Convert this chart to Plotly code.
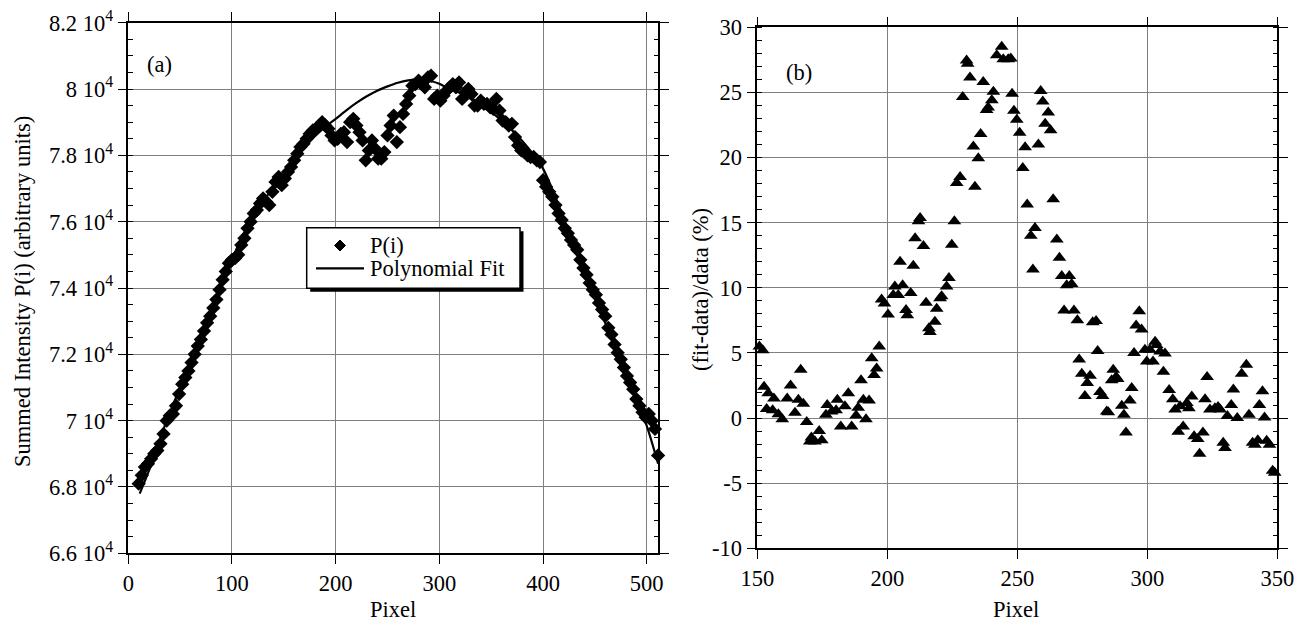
import plotly.graph_objects as go

W, H = 1310, 627

# ---------------- data: panel (a) ----------------
pixel_start, pixel_step = 10, 3
p_values = [
    68100, 68350, 68600, 68700, 68850, 69000, 69100, 69300, 69600, 70000,
    70150, 70200, 70450, 70800, 71100, 71300, 71500, 71750, 72000, 72250,
    72450, 72700, 72950, 73150, 73400, 73650, 73950, 74250, 74500, 74750,
    74850, 74900, 75000, 75300, 75500, 75800, 76000, 76250, 76350, 76550,
    76700, 76600, 76500, 76900, 77200, 77350, 77100, 77300, 77500, 77650,
    77850, 78050, 78250, 78350, 78500, 78650, 78750, 78800, 78900, 79000,
    78900, 78800, 78600, 78450, 78500, 78650, 78700, 78400, 79000, 79100,
    78900, 78700, 78450, 77850, 78150, 78450, 78200, 77900, 77900, 78100,
    78600, 78900, 79200, 78400, 78850, 79250, 79550, 79800, 80100, 80150,
    80250, 80150, 80050, 80350, 80400, 79700, 79800, 79650, 79800, 79950,
    80050, 80150, 80050, 80200, 79700, 79900, 80000, 79850, 79500, 79500,
    79650, 79550, 79550, 79450, 79400, 79700, 79350, 79050, 79000, 78900,
    78950, 78550, 78300, 78150, 78100, 78000, 77950, 77950, 77850, 77800,
    77250, 77050, 76900, 76750, 76500, 76250, 76050, 75800, 75650, 75450,
    75300, 75150, 74850, 74600, 74400, 74150, 73950, 73800, 73550, 73350,
    73150, 72800, 72600, 72300, 72050, 71850, 71600, 71350, 71150, 70950,
    70650, 70450, 70250, 70100, 70200, 70000, 69750, 68950,
]
p_pixel = [pixel_start + pixel_step * i for i in range(len(p_values))]

fit_pixel = [11, 20, 30, 40, 50, 60, 70, 80, 90, 100, 110, 120, 130, 140, 150,
             160, 170, 180, 190, 200, 210, 220, 230, 240, 250, 260, 270, 280,
             290, 300, 310, 320, 330, 340, 350, 360, 370, 380, 390, 400, 410,
             420, 430, 440, 450, 460, 470, 480, 490, 500, 511]
fit_values = [67800, 68500, 69400, 70240, 71000, 71770, 72560, 73360, 74140,
              74860, 75560, 76100, 76600, 77050, 77480, 77880, 78250, 78580,
              78860, 79100, 79350, 79580, 79780, 79950, 80080, 80190, 80260,
              80290, 80250, 80160, 79990, 79880, 79720, 79520, 79300, 79050,
              78760, 78430, 78050, 77600, 76900, 76100, 75250, 74450, 73700,
              72950, 72200, 71450, 70650, 69850, 68700]

# ---------------- data: panel (b) ----------------
res_pixel = [
    149.8, 150.8, 152.1, 152.6, 153.6, 154.2, 155.9, 156.4, 158.1, 159.6,
    161.5, 162.8, 164.5, 165.8, 166.7, 167.7, 169.0, 170.2, 170.8, 172.2,
    173.8, 174.8, 176.4, 176.9, 178.6, 180.3, 180.8, 182.1, 183.7, 185.0,
    186.3, 188.0, 188.8, 189.9, 190.8, 191.8, 193.0, 194.0, 194.9, 195.9,
    196.9, 197.8, 198.9, 200.3, 202.3, 202.9, 204.2, 204.9, 205.9, 207.2,
    207.7, 209.0, 210.0, 210.7, 212.0, 212.6, 213.9, 214.9, 216.0, 216.4,
    218.3, 219.0, 220.3, 220.9, 222.8, 223.7, 224.8, 225.8, 226.7, 228.0,
    229.0, 230.5, 230.9, 231.8, 233.1, 233.7, 235.0, 235.9, 236.9, 238.2,
    238.8, 240.2, 240.8, 242.1, 244.0, 244.6, 246.5, 247.5, 248.0, 248.7,
    249.8, 250.9, 252.1, 253.0, 253.8, 255.2, 256.0, 256.8, 258.1, 259.0,
    259.8, 260.7, 261.9, 262.8, 263.8, 265.2, 266.2, 267.1, 268.0, 269.0,
    270.0, 270.9, 271.8, 273.1, 273.8, 274.8, 276.0, 276.9, 278.0, 279.0,
    280.3, 280.9, 281.8, 282.8, 284.4, 285.0, 286.3, 286.9, 288.0, 288.6,
    290.2, 291.0, 291.8, 293.3, 294.0, 294.9, 295.7, 296.9, 297.8, 299.1,
    299.8, 301.0, 302.2, 303.0, 303.6, 304.9, 306.2, 306.8, 308.4, 309.8,
    310.7, 311.9, 312.6, 313.8, 315.2, 316.0, 317.1, 318.0, 319.4, 320.1,
    321.4, 322.2, 323.0, 324.1, 326.0, 327.2, 328.0, 329.2, 329.9, 330.8,
    332.3, 333.1, 334.6, 336.3, 338.1, 339.1, 340.5, 341.4, 342.5, 343.1,
    344.3, 345.1, 345.9, 347.0, 348.2, 349.0, 350.1,
]
res_values = [
    0.9, 5.5, 5.2, 2.4, 0.7, 1.9, 0.6, 1.5, 0.3, -0.1,
    1.5, 2.5, 0.4, 1.4, 3.7, 1.1, -0.3, -1.8, -1.5, -1.8,
    -1.0, -1.7, 0.25, 1.0, 0.5, 0.6, 1.4, -0.65, 0.9, 1.9,
    -0.65, 0.2, 0.8, 2.9, 1.4, -0.1, 1.35, 4.6, 3.3, 3.8,
    5.5, 9.1, 8.8, 7.95, 9.45, 10.1, 9.45, 12.0, 10.2, 8.3,
    7.9, 9.6, 11.7, 13.8, 15.1, 15.35, 13.2, 8.85, 6.9, 6.6,
    7.4, 8.4, 9.2, 9.35, 10.1, 10.75, 13.3, 15.1, 18.05, 18.5,
    24.65, 27.45, 27.2, 26.15, 20.85, 17.75, 19.95, 21.8, 25.8, 23.65,
    23.85, 24.4, 25.05, 27.85, 28.5, 27.55, 27.55, 27.6, 24.9, 23.6,
    22.9, 21.9, 19.2, 20.8, 16.4, 14.0, 11.4, 14.6, 21.0, 25.1,
    24.3, 22.6, 23.45, 22.1, 16.8, 13.7, 12.3, 10.9, 8.25, 10.2,
    10.9, 10.3, 8.25, 7.5, 4.5, 3.4, 1.7, 2.7, 3.25, 7.35,
    7.45, 5.15, 2.0, 1.7, 0.5, 0.45, 2.9, 3.7, 3.15, 3.0,
    0.95, 0.25, -1.1, 1.35, 2.3, 5.0, 7.1, 8.2, 6.8, 5.25,
    4.35, 5.25, 4.35, 5.85, 5.6, 5.1, 3.55, 4.95, 2.15, 1.45,
    0.65, -1.05, 0.9, -0.65, 1.15, 0.75, 1.65, -1.4, -1.6, -2.75,
    -1.1, 1.45, 3.15, 0.65, 0.75, 0.85, 0.65, -1.9, -2.3, 0.15,
    1.0, 2.2, 0.0, 3.4, 4.1, 0.25, -1.9, -2.05, -1.7, 1.0,
    2.05, 0.05, -1.75, -2.05, -4.05, -4.2, -1.75,
]

# ---------------- tick labels ----------------
ya_ticks = [66000, 68000, 70000, 72000, 74000, 76000, 78000, 80000, 82000]
ya_labels = ["6.6 10<sup>4</sup>", "6.8 10<sup>4</sup>", "7 10<sup>4</sup>",
             "7.2 10<sup>4</sup>", "7.4 10<sup>4</sup>", "7.6 10<sup>4</sup>",
             "7.8 10<sup>4</sup>", "8 10<sup>4</sup>", "8.2 10<sup>4</sup>"]
xa_ticks = [0, 100, 200, 300, 400, 500]
yb_ticks = [-10, -5, 0, 5, 10, 15, 20, 25, 30]
yb_labels = ["-10", "-5", "0", "5", "10", "15", "20", "25", "30"]
xb_ticks = [150, 200, 250, 300, 350]

FONT = "'Liberation Serif', 'Times New Roman', Times, 'DejaVu Serif', serif"
FS = 22.5


def px_x(p):
    return p / W


def px_y(p):
    return 1 - p / H


fig = go.Figure()
fig.add_trace(go.Scatter(
    x=p_pixel, y=p_values, mode="markers", name="P(i)", showlegend=False,
    marker=dict(symbol="diamond", size=11, color="black"),
    xaxis="x", yaxis="y", cliponaxis=False))
fig.add_trace(go.Scatter(
    x=fit_pixel, y=fit_values, mode="lines", name="Polynomial Fit",
    showlegend=False,
    line=dict(color="black", width=2.2, shape="spline", smoothing=0.8),
    xaxis="x", yaxis="y", cliponaxis=False))
fig.add_trace(go.Scatter(
    x=res_pixel, y=res_values, mode="markers", showlegend=False,
    marker=dict(symbol="triangle-up", size=12, color="black"),
    xaxis="x2", yaxis="y2", cliponaxis=False))

axis_common = dict(
    showline=True, linecolor="black", linewidth=1.5, mirror="allticks",
    showgrid=True, gridcolor="#7f7f7f", gridwidth=1, zeroline=False,
    ticks="outside", ticklen=9, tickwidth=1.3, tickcolor="black",
    tickfont=dict(family=FONT, size=FS, color="black"), automargin=False,
)

# ---- hand-drawn legend box (panel a) ----
lx0, lx1, ly0, ly1 = 306.7, 520.0, 227.7, 288.3
sh = 3.5
dcx, dcy, dr = 340.0, 245.5, 5.5
diamond_path = "M {},{} L {},{} L {},{} L {},{} Z".format(
    px_x(dcx), px_y(dcy - dr), px_x(dcx + dr), px_y(dcy),
    px_x(dcx), px_y(dcy + dr), px_x(dcx - dr), px_y(dcy))

shapes = [
    dict(type="rect", xref="paper", yref="paper",
         x0=px_x(lx0 + sh), x1=px_x(lx1 + sh), y0=px_y(ly1 + sh), y1=px_y(ly0 + sh),
         fillcolor="black", line=dict(width=0), layer="above"),
    dict(type="rect", xref="paper", yref="paper",
         x0=px_x(lx0), x1=px_x(lx1), y0=px_y(ly1), y1=px_y(ly0),
         fillcolor="white", line=dict(color="black", width=1.5), layer="above"),
    dict(type="path", xref="paper", yref="paper", path=diamond_path,
         fillcolor="black", line=dict(color="black", width=1), layer="above"),
    dict(type="line", xref="paper", yref="paper",
         x0=px_x(316), x1=px_x(364), y0=px_y(268.3), y1=px_y(268.3),
         line=dict(color="black", width=2.2), layer="above"),
]

ann_font = dict(family=FONT, size=FS, color="black")
annotations = [
    dict(text="Summed Intensity P(i) (arbitrary units)", textangle=-90,
         x=px_x(22), y=px_y(292), xref="paper", yref="paper",
         xanchor="center", yanchor="middle", showarrow=False, font=ann_font),
    dict(text="(fit-data)/data (%)", textangle=-90,
         x=px_x(700), y=px_y(290), xref="paper", yref="paper",
         xanchor="center", yanchor="middle", showarrow=False, font=ann_font),
    dict(text="Pixel", x=px_x(392.5), y=px_y(609), xref="paper", yref="paper",
         xanchor="center", yanchor="middle", showarrow=False, font=ann_font),
    dict(text="Pixel", x=px_x(1016), y=px_y(609), xref="paper", yref="paper",
         xanchor="center", yanchor="middle", showarrow=False, font=ann_font),
    dict(text="(a)", x=px_x(159), y=px_y(64), xref="paper", yref="paper",
         xanchor="center", yanchor="middle", showarrow=False, font=ann_font),
    dict(text="(b)", x=px_x(799), y=px_y(73), xref="paper", yref="paper",
         xanchor="center", yanchor="middle", showarrow=False, font=ann_font),
    dict(text="P(i)", x=px_x(368), y=px_y(245.5), xref="paper", yref="paper",
         xanchor="left", yanchor="middle", showarrow=False, font=ann_font),
    dict(text="Polynomial Fit", x=px_x(368), y=px_y(268.5), xref="paper",
         yref="paper", xanchor="left", yanchor="middle", showarrow=False,
         font=ann_font),
]

fig.update_layout(
    width=W, height=H,
    margin=dict(l=0, r=0, t=0, b=0),
    paper_bgcolor="white", plot_bgcolor="white",
    font=dict(family=FONT, size=FS, color="black"),
    showlegend=False,
    xaxis=dict(domain=[px_x(128.3), px_x(658.3)], range=[0, 511.2],
               tickmode="array", tickvals=xa_ticks, anchor="y", **axis_common),
    yaxis=dict(domain=[px_y(553.3), px_y(22.7)], range=[66000, 82000],
               tickmode="array", tickvals=ya_ticks, ticktext=ya_labels,
               anchor="x",
               minor=dict(tickvals=[66000 + 500 * k for k in range(33)],
                          ticks="inside", ticklen=5, tickcolor="black",
                          tickwidth=1.2, showgrid=False),
               **axis_common),
    xaxis2=dict(domain=[px_x(757.3), px_x(1277.3)], range=[150, 350],
                tickmode="array", tickvals=xb_ticks, anchor="y2", **axis_common),
    yaxis2=dict(domain=[px_y(548.3), px_y(27.3)], range=[-10, 30],
                tickmode="array", tickvals=yb_ticks, ticktext=yb_labels,
                anchor="x2",
                minor=dict(tickvals=[-10 + k for k in range(41)],
                           ticks="inside", ticklen=5, tickcolor="black",
                           tickwidth=1.2, showgrid=False),
                **axis_common),
    shapes=shapes,
    annotations=annotations,
)

fig.write_html("out.html")
